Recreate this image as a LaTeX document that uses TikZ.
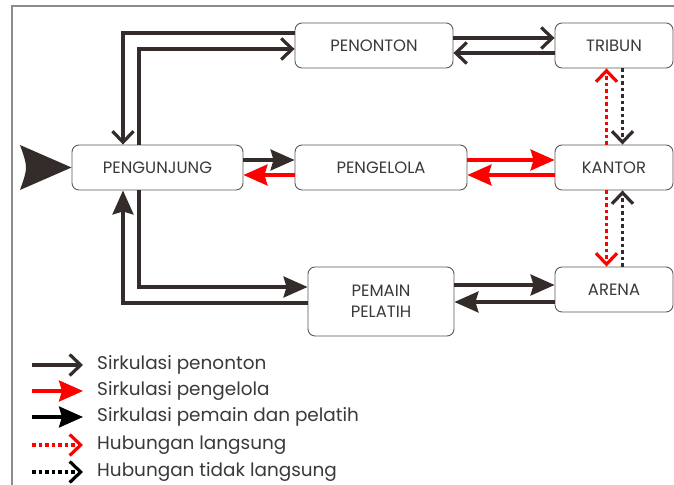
\documentclass[tikz,border=0pt]{standalone}
\usepackage{fontspec}
\setmainfont{Poppins}
\usetikzlibrary{arrows.meta,calc}
\definecolor{dk}{HTML}{332C2B}
\definecolor{rd}{HTML}{FF0000}
\definecolor{fr}{HTML}{8C8C8C}
\definecolor{bx}{HTML}{5A5A5A}
\definecolor{tx}{HTML}{3A3A3A}
\begin{document}
\begin{tikzpicture}[x=1bp,y=1bp,
  box/.style={draw=bx,line width=0.9bp,rounded corners=7bp,fill=white,text=tx,
    font=\fontsize{16.5}{21}\selectfont,align=center,inner sep=0pt},
  conn/.style={draw=dk,line width=3.2bp},
  redconn/.style={draw=rd,line width=3.2bp},
  blkconn/.style={draw=black,line width=3.2bp},
  dotted line/.style={dash pattern=on 3.5bp off 3bp},
  openhead/.style={-{Straight Barb[length=11bp,width=21bp]}},
  fillhead/.style={-{Stealth[length=24bp,width=21bp,inset=3bp]}},
  legtext/.style={anchor=west,text=tx,font=\fontsize{18.5}{22}\selectfont,inner sep=0pt}
]
\fill[white] (0,0) rectangle (674,485);
\useasboundingbox (0,0) rectangle (674,485);
% frame
\draw[fr,line width=1.2bp] (12,0) -- (12,479) -- (674,479);

% nodes
\node[box,minimum width=158bp,minimum height=45bp] (penonton) at (374,439.5) {PENONTON};
\node[box,minimum width=118bp,minimum height=45bp] (tribun) at (614,439.5) {TRIBUN};
\node[box,minimum width=171bp,minimum height=45bp] (pengunjung) at (157.5,317.5) {PENGUNJUNG};
\node[box,minimum width=172bp,minimum height=45bp] (pengelola) at (381,317.5) {PENGELOLA};
\node[box,minimum width=118bp,minimum height=45bp] (kantor) at (614,317.5) {KANTOR};
\node[box,minimum width=146bp,minimum height=69bp] (pemain) at (381,183.5) {PEMAIN\\PELATIH};
\node[box,minimum width=118bp,minimum height=45bp] (arena) at (614,195.5) {ARENA};

% entry arrow
\coordinate (entryA) at (20,340);
\coordinate (entryB) at (20,295);
\coordinate (entryC) at (28,317.5);
\fill[dk] (pengunjung.west) -- (entryA) .. controls (entryC) .. (entryB) -- cycle;

% pengunjung - penonton
\draw[conn,openhead] ([yshift=12.5bp]penonton.west) -| ([xshift=-34.5bp]pengunjung.north);
\draw[conn,openhead] ([xshift=-18.5bp]pengunjung.north) |- ([yshift=-3.5bp]penonton.west);

% penonton - tribun
\draw[conn,openhead] ([yshift=7.5bp]penonton.east) -- ([yshift=7.5bp]tribun.west);
\draw[conn,openhead] ([yshift=-7.5bp]tribun.west) -- ([yshift=-7.5bp]penonton.east);

% pengunjung - pengelola
\draw[conn,fillhead] ([yshift=7.5bp]pengunjung.east) -- ([yshift=7.5bp]pengelola.west);
\draw[redconn,fillhead] ([yshift=-7.5bp]pengelola.west) -- ([yshift=-7.5bp]pengunjung.east);

% pengelola - kantor
\draw[redconn,fillhead] ([yshift=7.5bp]pengelola.east) -- ([yshift=7.5bp]kantor.west);
\draw[redconn,fillhead] ([yshift=-7.5bp]kantor.west) -- ([yshift=-7.5bp]pengelola.east);

% tribun - kantor
\draw[redconn,dotted line,openhead] ([xshift=-7.5bp]kantor.north) -- ([xshift=-7.5bp]tribun.south);
\draw[conn,dotted line,openhead] ([xshift=8.5bp]tribun.south) -- ([xshift=8.5bp]kantor.north);

% kantor - arena
\draw[redconn,dotted line,openhead] ([xshift=-7.5bp]kantor.south) -- ([xshift=-7.5bp]arena.north);
\draw[conn,dotted line,openhead] ([xshift=8.5bp]arena.north) -- ([xshift=8.5bp]kantor.south);

% pengunjung - pemain
\draw[conn,fillhead] ([xshift=-18.5bp]pengunjung.south) |- ([yshift=14.5bp]pemain.west);
\draw[conn,fillhead] ([yshift=-1.5bp]pemain.west) -| ([xshift=-34.5bp]pengunjung.south);

% pemain - arena
\coordinate (pa1) at ([yshift=4.5bp]arena.west);
\coordinate (pa2) at ([yshift=-12.5bp]arena.west);
\draw[conn,fillhead] (pemain.east |- pa1) -- (pa1);
\draw[conn,fillhead] (pa2) -- (pemain.east |- pa2);

% legend
\node[legtext] (l1) at (97,120) {Sirkulasi penonton};
\node[legtext] (l2) at (97,94) {Sirkulasi pengelola};
\node[legtext] (l3) at (97,68) {Sirkulasi pemain dan pelatih};
\node[legtext] (l4) at (97,40) {Hubungan langsung};
\node[legtext] (l5) at (97,13) {Hubungan tidak langsung};
\coordinate (s1) at (32,120); \coordinate (e1) at (83,120);
\coordinate (s2) at (32,94);  \coordinate (e2) at (83,94);
\coordinate (s3) at (32,68);  \coordinate (e3) at (83,68);
\coordinate (s4) at (32,40);  \coordinate (e4) at (83,40);
\coordinate (s5) at (32,13);  \coordinate (e5) at (83,13);
\draw[conn,openhead] (s1) -- (e1);
\draw[redconn,fillhead] (s2) -- (e2);
\draw[blkconn,fillhead] (s3) -- (e3);
\draw[redconn,dotted line,openhead] (s4) -- (e4);
\draw[blkconn,dotted line,openhead] (s5) -- (e5);
\end{tikzpicture}
\end{document}
